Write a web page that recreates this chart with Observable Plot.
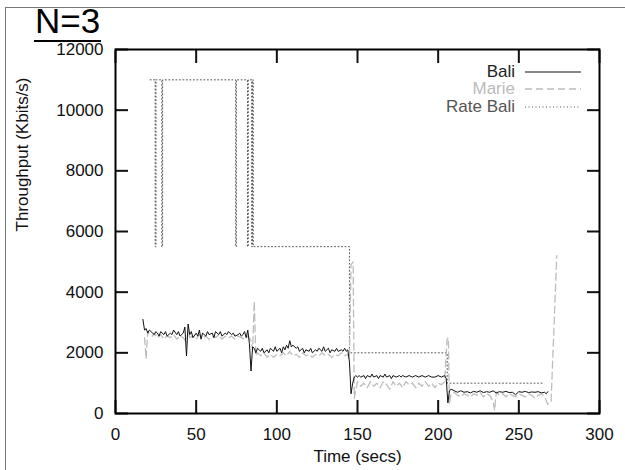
<!DOCTYPE html>
<html>
<head>
<meta charset="utf-8">
<script src="https://cdn.jsdelivr.net/npm/d3@7"></script>
<script src="https://cdn.jsdelivr.net/npm/@observablehq/plot@0.6"></script>
<style>
  html, body { margin: 0; padding: 0; background: #fff; }
  #wrap { position: relative; width: 625px; height: 470px; overflow: hidden; font-family: "Liberation Sans", Arial, sans-serif; }
  #border { position: absolute; left: 5px; top: 7px; width: 640px; height: 480px; border-left: 1.5px solid #777; border-top: 1.5px solid #777; }
  #title { position: absolute; left: 34px; top: 1px; font-size: 35px; line-height: 40px; color: #000; }
  #title span { border-bottom: 2px solid #000; padding: 0 1px; }
  #legend { position: absolute; right: 44px; top: 63px; font-size: 17px; }
  .lg { display: flex; align-items: center; justify-content: flex-end; height: 17.5px; }
  .lg svg { margin-left: 10px; }
  #chart { position: absolute; left: 0; top: 0; }
</style>
</head>
<body>
<div id="wrap">
  <div id="border"></div>
  <div id="chart"></div>
  <div id="title"><span>N=3</span></div>
  <div id="legend"></div>
</div>
<script>
const seriesNames = ["Bali", "Marie", "Rate Bali"];
const xTicks = [0, 50, 100, 150, 200, 250, 300];
const yTicks = [0, 2000, 4000, 6000, 8000, 10000, 12000];

const baliT = [17,18,19,20,21,22,24,25,26,27,28,30,31,32,34,35,36,38,39,40,42,43,44,45,46,47,48,50,51,52,53,54,56,57,58,60,61,62,64,65,66,68,69,70,72,73,74,76,77,78,79,80,81,82,83,84,85,86,
  87,88,90,91,92,94,95,96,98,99,100,102,103,104,105,106,107,108,109,110,112,113,114,116,117,118,120,121,122,124,125,126,128,129,130,132,133,134,136,137,138,140,141,142,143,144,145,146,147,148,149,
  150,151,152,154,155,156,158,159,160,162,163,164,166,167,168,170,171,172,174,176,177,178,180,182,184,186,188,190,192,194,196,198,200,202,204,205,206,207,208,
  210,212,214,216,218,220,222,224,226,228,230,232,234,236,238,240,242,244,246,248,250,252,254,256,258,260,262,264,266,267,268];
const baliV = [3100,2750,2800,2650,2750,2700,2600,2700,2650,2550,2700,2600,2700,2550,2650,2600,2750,2600,2700,2550,2650,2850,1900,2950,2600,2700,2500,2650,2550,2750,2450,2650,2550,2700,2600,2650,2500,2700,2600,2700,2550,2650,2600,2700,2600,2650,2550,2600,2650,2550,2600,2700,2500,2750,2300,1400,2200,2150,
  2000,2150,2050,2150,2000,2100,2000,2150,2050,2200,2050,2150,2000,2200,2100,2250,2150,2400,2200,2250,2150,2200,2050,2150,2000,2100,2050,2150,2000,2100,2050,2150,2050,2200,2050,2150,2000,2100,2050,2150,2050,2100,2050,2150,2050,2100,1700,650,1000,1200,1250,
  1200,1250,1200,1250,1150,1250,1200,1300,1200,1250,1150,1250,1200,1300,1200,1250,1150,1250,1200,1250,1200,1250,1200,1250,1200,1250,1200,1250,1200,1250,1200,1200,1250,1200,1250,1150,350,750,800,
  750,700,750,700,720,680,730,700,750,690,720,700,750,680,720,700,730,690,700,620,720,700,730,690,710,700,720,680,700,650,720];

const marieT = [18,19,20,21,23,24,26,28,30,32,34,36,38,40,42,44,45,46,48,50,52,54,56,58,60,62,64,66,68,70,72,74,76,78,80,82,84,85,86,87,
  88,90,92,94,96,98,100,102,104,106,108,110,112,114,116,118,120,122,124,126,128,130,132,134,136,138,140,142,144,145,146,147.3,148,149,
  150,152,154,156,158,160,162,164,166,168,170,172,174,176,178,180,182,184,186,188,190,192,194,196,198,200,202,204,205.5,206.3,207,208,
  210,212,214,216,218,220,222,224,226,228,230,232,234,235,236,238,240,242,244,246,248,250,252,254,256,258,260,262,264,266,268,270,273.5];
const marieV = [2500,1800,2700,2600,2550,2650,2500,2600,2450,2550,2500,2600,2450,2550,2500,2350,2700,2500,2550,2450,2600,2500,2550,2450,2550,2500,2600,2450,2550,2500,2550,2450,2550,2500,2450,2550,2400,2100,3700,1900,
  2000,1900,2000,1850,1950,1850,1950,1900,2000,1900,2050,1900,1950,1850,2000,1900,1950,1850,1950,1900,2000,1900,1950,1850,1950,1900,2000,1900,1950,1800,4900,5000,500,800,
  1050,900,1000,850,1050,900,1000,850,1050,950,800,1050,900,1000,850,1050,950,1000,850,1000,900,1050,900,1000,850,1000,950,1050,2450,2500,300,650,
  700,600,550,650,600,550,650,600,700,550,650,600,400,100,700,600,650,550,650,600,550,650,600,550,650,600,500,600,650,550,300,400,5200];

const rateT = [21.5,24.6,24.6,25.1,25.1,28.7,28.7,29.2,29.2,74.5,74.5,74.9,74.9,81.8,81.8,82.3,82.3,84.4,84.4,84.9,84.9,85.4,85.4,145,145,205.6,205.6,265];
const rateV = [11000,11000,5500,5500,11000,11000,5500,5500,11000,11000,5500,5500,11000,11000,5500,5500,11000,11000,5500,5500,11000,11000,5500,5500,2000,2000,1000,1000];

const colors = {"Bali": "#111", "Marie": "#bdbdbd", "Rate Bali": "#555"};
const dashes = {"Bali": null, "Marie": "7,4", "Rate Bali": "1,2.5"};
const textColors = {"Bali": "#222", "Marie": "#bbb", "Rate Bali": "#555"};

const bali = baliT.map((t, i) => ({t, v: baliV[i]}));
const marie = marieT.map((t, i) => ({t, v: marieV[i]}));
const rate = rateT.map((t, i) => ({t, v: rateV[i]}));

const chart = Plot.plot({
  width: 625,
  height: 470,
  marginLeft: 115,
  marginRight: 26,
  marginTop: 49,
  marginBottom: 57,
  style: {fontFamily: "Liberation Sans, Arial, sans-serif", fontSize: "17px", background: "transparent", color: "#111"},
  x: {domain: [0, 300], label: null},
  y: {domain: [0, 12000], label: null},
  marks: [
    Plot.line(rate, {x: "t", y: "v", stroke: colors["Rate Bali"], strokeWidth: 1, strokeDasharray: dashes["Rate Bali"]}),
    Plot.line(marie, {x: "t", y: "v", stroke: colors["Marie"], strokeWidth: 1.3, strokeDasharray: dashes["Marie"]}),
    Plot.line(bali, {x: "t", y: "v", stroke: colors["Bali"], strokeWidth: 1}),
    Plot.axisX(xTicks, {anchor: "bottom", tickSize: -13, tickPadding: 27, strokeWidth: 2, fontSize: 17, tickFormat: d => String(d), label: null}),
    Plot.axisX(xTicks, {anchor: "top", tickSize: -13, tickFormat: () => "", strokeWidth: 2, label: null}),
    Plot.axisY(yTicks, {anchor: "left", tickSize: -13, tickPadding: 25, strokeWidth: 2, fontSize: 17, tickFormat: d => String(d), label: null}),
    Plot.axisY(yTicks, {anchor: "right", tickSize: -13, tickFormat: () => "", strokeWidth: 2, label: null}),
    Plot.frame({stroke: "#000", strokeWidth: 2}),
    Plot.text(["Throughput (Kbits/s)"], {frameAnchor: "left", text: d => d, rotate: -90, dx: -93, fontSize: 17}),
    Plot.text(["Time (secs)"], {frameAnchor: "bottom", text: d => d, dy: 48, fontSize: 17})
  ]
});
document.getElementById("chart").appendChild(chart);

const legend = document.getElementById("legend");
seriesNames.forEach(name => {
  const row = document.createElement("div");
  row.className = "lg";
  const label = document.createElement("span");
  label.textContent = name;
  label.style.color = textColors[name];
  row.appendChild(label);
  const svg = d3.create("svg").attr("width", 56).attr("height", 6);
  svg.append("line").attr("x1", 0).attr("x2", 56).attr("y1", 3).attr("y2", 3)
    .attr("stroke", colors[name]).attr("stroke-width", name === "Marie" ? 1.3 : 1)
    .attr("stroke-dasharray", dashes[name]);
  row.appendChild(svg.node());
  legend.appendChild(row);
});
</script>
</body>
</html>
